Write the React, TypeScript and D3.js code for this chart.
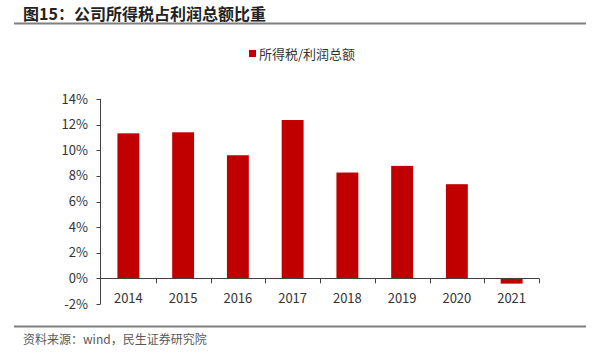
import React from "react";
import * as d3 from "d3";

const years = ["2014", "2015", "2016", "2017", "2018", "2019", "2020", "2021"];
const ratio = [11.32, 11.4, 9.61, 12.36, 8.26, 8.78, 7.35, -0.41];
const yTicks = [-2, 0, 2, 4, 6, 8, 10, 12, 14];
const title = "图15：公司所得税占利润总额比重";
const legendLabel = "所得税/利润总额";
const source = "资料来源：wind，民生证券研究院";

const W = 599;
const H = 364;
const FONT = "'Microsoft YaHei', 'Noto Sans CJK SC', sans-serif";

export default function App() {
  const x = d3.scaleBand<string>().domain(years).range([101, 539]).paddingInner(0.6).paddingOuter(0.3);
  const xb = d3.scaleBand<string>().domain(years).range([101, 539]);
  const y = d3.scaleLinear().domain([-2, 14]).range([304, 99]);
  const red = "#C00000";
  const axisColor = "#404040";
  return (
    <svg width={W} height={H} style={{ position: "absolute", left: 0, top: 0, background: "#fff" }} fontFamily={FONT}>
      <text x={23} y={20} fontSize={16} fontWeight="bold" fill="#222">{title}</text>
      <line x1={14} x2={586} y1={23.5} y2={23.5} stroke="#7f7f7f" strokeWidth={2} />

      <rect x={249} y={50} width={7} height={7} fill={red} />
      <text x={259} y={58.5} fontSize={13} fill="#333">{legendLabel}</text>

      {years.map((yr, i) => {
        const v = ratio[i];
        const y0 = y(Math.max(0, v));
        const y1 = y(Math.min(0, v));
        return <rect key={yr} x={x(yr)!} y={y0} width={x.bandwidth()} height={y1 - y0} fill={red} />;
      })}

      <line x1={100.5} x2={100.5} y1={y(14)} y2={y(-2)} stroke={axisColor} strokeWidth={1} />
      {yTicks.map((t) => (
        <g key={t}>
          <line x1={96.5} x2={100.5} y1={Math.round(y(t)) + 0.5} y2={Math.round(y(t)) + 0.5} stroke={axisColor} />
          <text x={88} y={y(t)} dy="0.35em" textAnchor="end" fontSize={13} fill="#333">{t}%</text>
        </g>
      ))}
      <line x1={100.5} x2={539} y1={Math.round(y(0)) + 0.5} y2={Math.round(y(0)) + 0.5} stroke={axisColor} />
      {years.map((yr) => {
        const tx = Math.round(xb(yr)! + xb.bandwidth()) + 0.5;
        return <line key={"t" + yr} x1={tx} x2={tx} y1={y(0)} y2={y(0) + 5} stroke={axisColor} />;
      })}
      {years.map((yr) => (
        <text key={"l" + yr} x={xb(yr)! + xb.bandwidth() / 2} y={298} dy="0.35em" textAnchor="middle" fontSize={13} fill="#333">{yr}</text>
      ))}

      <line x1={14} x2={586} y1={326.5} y2={326.5} stroke="#7f7f7f" strokeWidth={2} />
      <text x={23} y={344} fontSize={12} fill="#595959">{source}</text>
    </svg>
  );
}
